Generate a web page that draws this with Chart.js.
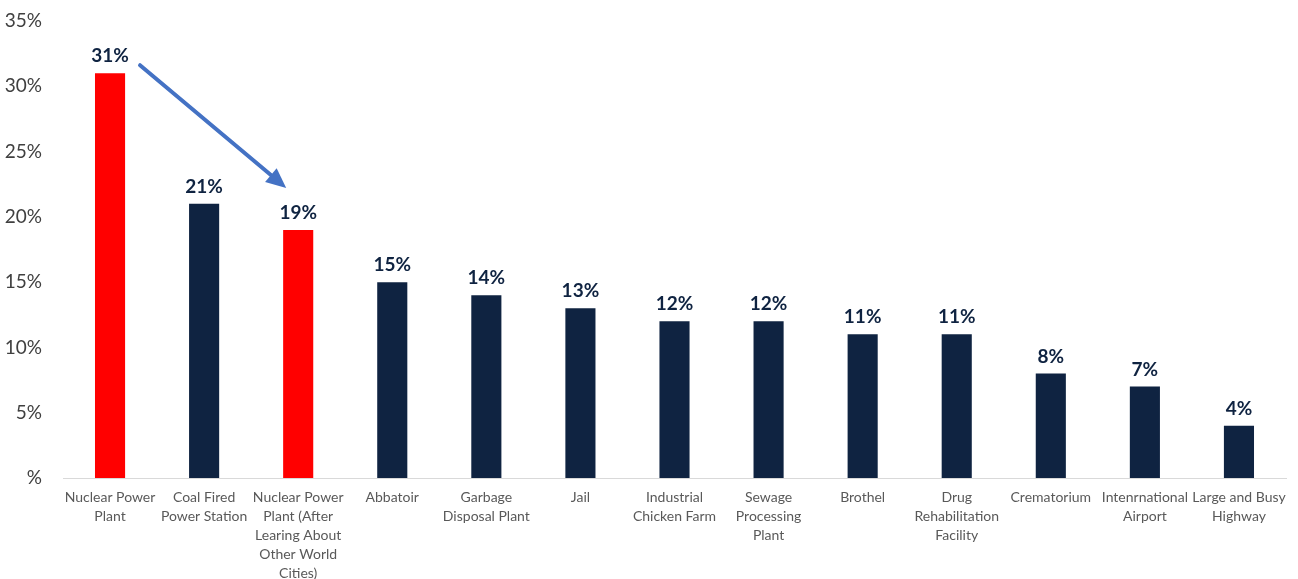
<!DOCTYPE html>
<html>
<head>
<meta charset="utf-8">
<script src="https://cdn.jsdelivr.net/npm/chart.js@4/dist/chart.umd.min.js"></script>
<style>
html,body{margin:0;padding:0;background:#fff;}
#wrap{width:1298px;height:579px;position:relative;}
</style>
</head>
<body>
<div id="wrap"><canvas id="c" width="1298" height="579"></canvas></div>
<script>
const categories = [
  ["Nuclear Power","Plant"],
  ["Coal Fired","Power Station"],
  ["Nuclear Power","Plant (After","Learing About","Other World","Cities)"],
  ["Abbatoir"],
  ["Garbage","Disposal Plant"],
  ["Jail"],
  ["Industrial","Chicken Farm"],
  ["Sewage","Processing","Plant"],
  ["Brothel"],
  ["Drug","Rehabilitation","Facility"],
  ["Crematorium"],
  ["Intenrnational","Airport"],
  ["Large and Busy","Highway"]
];
const values = [31, 21, 19, 15, 14, 13, 12, 12, 11, 11, 8, 7, 4];
const highlighted = [true, false, true, false, false, false, false, false, false, false, false, false, false];
const yTicks = [0, 5, 10, 15, 20, 25, 30, 35];

const RED = '#FF0000', NAVY = '#0F2341';
const FONT = 'Lato, "Open Sans", "Noto Sans", sans-serif';

const labelPlugin = {
  id: 'valueLabels',
  afterDatasetsDraw(chart) {
    const ctx = chart.ctx;
    const meta = chart.getDatasetMeta(0);
    ctx.save();
    ctx.font = 'bold 19px ' + FONT;
    ctx.fillStyle = '#0F2341';
    ctx.textAlign = 'center';
    ctx.textBaseline = 'alphabetic';
    meta.data.forEach((bar, i) => {
      ctx.fillText(values[i] + '%', bar.x, bar.y - 11);
    });
    // arrow from first highlighted bar label to second
    const xs = chart.scales.x, ys = chart.scales.y;
    const x1 = xs.getPixelForValue(0) + 30, y1 = ys.getPixelForValue(values[0]) - 8;
    const x2 = xs.getPixelForValue(2) - 12, y2 = ys.getPixelForValue(values[2]) - 42;
    const ang = Math.atan2(y2 - y1, x2 - x1);
    const head = 20, hw = 9;
    const bx = x2 - head * Math.cos(ang), by = y2 - head * Math.sin(ang);
    ctx.strokeStyle = '#4472C4';
    ctx.fillStyle = '#4472C4';
    ctx.lineWidth = 4;
    ctx.lineCap = 'round';
    ctx.beginPath();
    ctx.moveTo(x1, y1);
    ctx.lineTo(bx, by);
    ctx.stroke();
    ctx.beginPath();
    ctx.moveTo(x2, y2);
    ctx.lineTo(bx + hw * Math.sin(ang), by - hw * Math.cos(ang));
    ctx.lineTo(bx - hw * Math.sin(ang), by + hw * Math.cos(ang));
    ctx.closePath();
    ctx.fill();
    ctx.restore();
  }
};

new Chart(document.getElementById('c'), {
  type: 'bar',
  data: {
    labels: categories,
    datasets: [{
      data: values,
      backgroundColor: highlighted.map(h => h ? RED : NAVY),
      barPercentage: 0.32,
      categoryPercentage: 1.0
    }]
  },
  options: {
    responsive: false,
    animation: false,
    layout: { padding: { top: 21, right: 12, left: 0, bottom: 0 } },
    plugins: { legend: { display: false }, tooltip: { enabled: false } },
    scales: {
      x: {
        grid: { display: false, drawTicks: false },
        border: { display: true, color: '#D9D9D9', width: 1 },
        ticks: {
          color: '#595959',
          font: { family: FONT, size: 14, lineHeight: 1.35 },
          padding: 10,
          maxRotation: 0,
          autoSkip: false
        },
        afterFit(s) { s.height = 101; }
      },
      y: {
        min: 0, max: 35,
        afterBuildTicks(s) { s.ticks = yTicks.map(v => ({ value: v })); },
        grid: { display: false, drawTicks: false },
        border: { display: false },
        ticks: {
          color: '#404040',
          font: { family: FONT, size: 19 },
          padding: 21,
          callback: v => v === 0 ? '%' : v + '%'
        },
        afterFit(s) { s.width = 63; s.paddingTop = 0; s.paddingBottom = 0; }
      }
    }
  },
  plugins: [labelPlugin]
});
</script>
</body>
</html>
